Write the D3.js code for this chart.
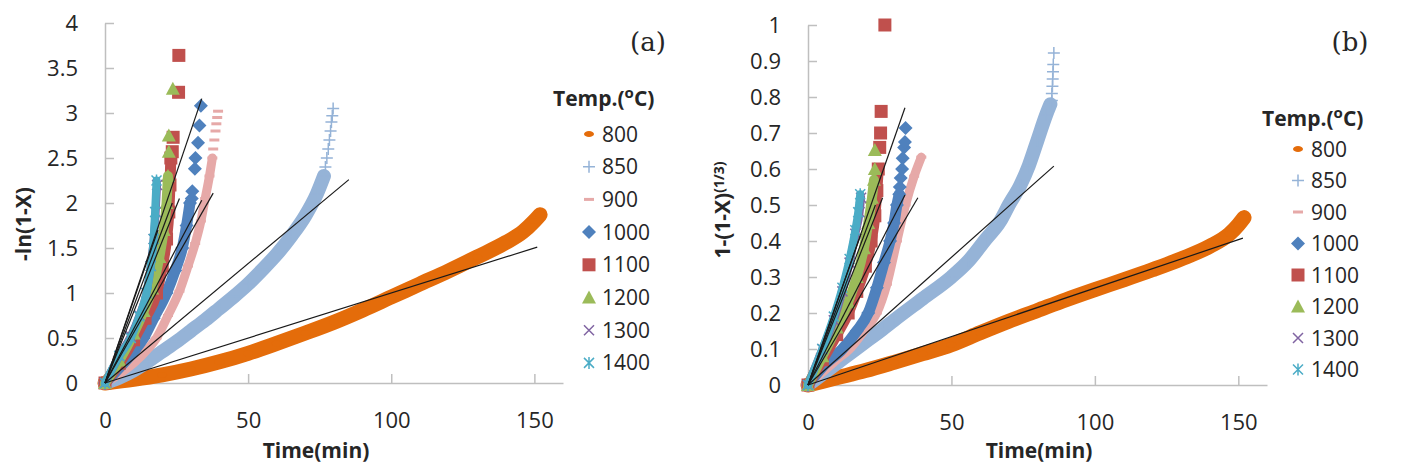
<!doctype html>
<html>
<head>
<meta charset="utf-8">
<script src="https://d3js.org/d3.v7.min.js"></script>
<style>
  body {margin:0; background:#fff;}
  svg text {font-family:"Open Sans", sans-serif; fill:#262626;}
  .tick line, .domain {stroke:#bfbfbf; stroke-width:1.5;}
  .tick text {font-size:22px;}
  .fit {stroke:#1a1a1a; stroke-width:1.2;}
  .ttl {font-weight:bold; font-size:21px;}
</style>
</head>
<body>
<svg id="chart" width="1418" height="470"></svg>
<script>
const temps = ['800','850','900','1000','1100','1200','1300','1400'];
const xTicks = [0, 50, 100, 150];
const yTicksA = [0, 0.5, 1, 1.5, 2, 2.5, 3, 3.5, 4];
const yTicksB = [0, 0.1, 0.2, 0.3, 0.4, 0.5, 0.6, 0.7, 0.8, 0.9, 1];

// panel (a): -ln(1-X) vs time, [min, value]
const a800 = [[0,0],[10,0.04],[20,0.09],[30,0.155],[40,0.235],[50,0.33],[60,0.44],[70,0.555],[80,0.675],[90,0.81],[100,0.955],[110,1.1],[120,1.245],[130,1.4],[140,1.56],[146,1.68],[150,1.8],[152,1.87]];
const a850 = [[0,0],[5,0.06],[10,0.14],[15,0.24],[20,0.35],[25,0.46],[30,0.58],[35,0.7],[40,0.83],[45,0.96],[50,1.1],[55,1.26],[60,1.43],[65,1.63],[70,1.86],[74,2.1],[76.5,2.3]];
const a900 = [[0,0],[5,0.1],[10,0.22],[15,0.38],[18,0.5],[22,0.75],[26,1.02],[29,1.3],[31.5,1.55],[33.5,1.8],[35,2.05],[36.5,2.3],[37.5,2.5]];
const a1000 = [[0,0],[5,0.17],[10,0.35],[13.5,0.5],[17,0.72],[21.5,1.0],[24.5,1.25],[27,1.5],[28.5,1.75],[29.7,2.0]];
const a1100 = [[0,0],[5,0.22],[10,0.48],[14,0.72],[18,1.0],[20,1.3],[21.5,1.6],[22.3,1.9],[22.7,2.2],[23,2.5]];
const a1200 = [[0,0],[5,0.25],[10,0.55],[13.5,0.8],[16.5,1.05],[19,1.4],[20.5,1.7],[21.5,2.0],[22,2.3]];
const a1300 = [[0,0],[5,0.3],[9,0.52],[12,0.75],[14.5,1.0],[16,1.3],[17,1.6],[17.7,1.9],[18.2,2.2]];
const a1400 = [[0,0],[5,0.3],[9,0.5],[12,0.74],[14.5,1.0],[16,1.3],[17,1.6],[17.5,1.9],[18,2.25]];
const a850tail = [[77,2.4],[77.5,2.5],[78,2.6],[78.4,2.7],[78.8,2.8],[79.1,2.9],[79.4,2.97],[79.7,3.05]];
const a900tail = [[37.8,2.6],[38.2,2.7],[38.6,2.8],[38.9,2.88],[39.2,2.95],[39.5,3.02]];
const a1000tail = [[30.3,2.05],[30.5,2.13],[31.4,2.38],[31.6,2.5],[32.5,2.67],[33,2.86],[33.5,3.08]];
const a1100tail = [[23.5,2.57],[23.8,2.73],[25.7,3.23],[25.8,3.64]];
const a1200tail = [[22.3,2.57],[22.3,2.75],[23.7,3.27]];
const fitA = [[151,1.51],[85.2,2.26],[37.8,2.11],[33.8,2.03],[33.8,3.16],[26,2.05],[23.5,2.0],[18.5,1.7]];

// panel (b): 1-(1-X)^(1/3) vs time
const b800 = [[0,0],[10,0.02],[20,0.04],[30,0.063],[40,0.087],[50,0.112],[60,0.145],[70,0.177],[80,0.207],[90,0.237],[100,0.265],[110,0.292],[120,0.32],[130,0.35],[140,0.385],[147,0.42],[150,0.445],[152,0.465]];
const b850 = [[0,0],[5,0.03],[10,0.06],[15,0.09],[20,0.12],[26,0.155],[30,0.18],[40,0.24],[50,0.3],[56,0.345],[62,0.405],[67,0.455],[70,0.5],[74,0.555],[77,0.61],[80,0.68],[83,0.75],[84.5,0.78]];
const b900 = [[0,0],[5,0.035],[10,0.07],[14.5,0.1],[19.5,0.15],[24,0.2],[27.5,0.28],[31,0.4],[34,0.5],[37,0.58],[39.5,0.633]];
const b1000 = [[0,0],[5,0.05],[12,0.1],[17,0.15],[21,0.2],[24,0.27],[26.5,0.34],[28.6,0.4],[30,0.45],[31,0.5],[31.8,0.53]];
const b1100 = [[0,0],[5,0.07],[10,0.14],[14,0.2],[17,0.26],[20,0.33],[22,0.4],[23.3,0.47],[24,0.54],[24.5,0.6]];
const b1200 = [[0,0],[5,0.08],[10,0.16],[14,0.23],[17,0.3],[19.5,0.38],[21,0.45],[22.3,0.52],[23,0.57]];
const b1300 = [[0,0],[5,0.1],[9,0.18],[12,0.26],[14.5,0.34],[16.5,0.42],[18,0.48],[18.5,0.52]];
const b1400 = [[0,0],[5,0.1],[9,0.19],[12,0.27],[14.5,0.35],[16.5,0.43],[17.5,0.48],[18.2,0.53]];
const b850tail = [[85,0.79],[85,0.81],[85.2,0.83],[85.3,0.85],[85.4,0.87],[85.5,0.89],[85.7,0.922]];
const b1000tail = [[32,0.55],[32.3,0.575],[32.8,0.6],[33,0.63],[33.5,0.66],[33.8,0.675],[34,0.714]];
const b1100tail = [[25,0.66],[25.3,0.7],[25.5,0.76],[26.8,1.0]];
const b1200tail = [[23.3,0.6],[23.3,0.653]];
const fitB = [[151.6,0.408],[85.7,0.608],[38.3,0.52],[33.8,0.528],[33.8,0.77],[26,0.52],[23.5,0.5],[18.5,0.42]];

// styling per temperature
const colors = ['#e46c0a','#95b3d7','#e6a9a8','#4f81bd','#c0504d','#9bbb59','#8064a2','#4bacc6'];
const shapes = ['dot','plus','dash','diamond','square','triangle','cross','star'];
const bandW = [15,14,9,11,11,10,8,8];

function markerPath(s) {
  switch (s) {
    case 'dot': return 'M-5,0a5,3 0 1,0 10,0a5,3 0 1,0 -10,0';
    case 'plus': return 'M-6,0H6M0,-6V6';
    case 'dash': return 'M-5,-1.5H5V1.5H-5Z';
    case 'diamond': return 'M0,-7L7,0L0,7L-7,0Z';
    case 'square': return 'M-6.5,-6.5H6.5V6.5H-6.5Z';
    case 'triangle': return 'M0,-7L7,6H-7Z';
    case 'cross': return 'M-5,-5L5,5M5,-5L-5,5';
    case 'star': return 'M-5,-5L5,5M5,-5L-5,5M0,-6V6';
  }
}
const stroked = s => s === 'plus' || s === 'cross' || s === 'star';

function addMarkers(g, pts, i, x, y) {
  g.selectAll(null).data(pts).join('path')
    .attr('d', markerPath(shapes[i]))
    .attr('transform', d => `translate(${x(d[0])},${y(d[1])})`)
    .attr('fill', stroked(shapes[i]) ? 'none' : colors[i])
    .attr('stroke', stroked(shapes[i]) ? colors[i] : 'none')
    .attr('stroke-width', 1.5);
}

const svg = d3.select('#chart');
svg.append('rect').attr('width', 1418).attr('height', 470).attr('fill', '#fff');

function panel(o) {
  const x = d3.scaleLinear([0, 160], o.xr);
  const y = d3.scaleLinear(o.yd, o.yr);
  const g = svg.append('g');

  g.append('g').attr('transform', `translate(0,${o.yr[0]})`)
    .call(d3.axisBottom(x).tickValues(xTicks).tickSize(-9).tickSizeOuter(0).tickPadding(29).tickFormat(d => String(d)));
  g.append('g').attr('transform', `translate(${o.xr[0]},0)`)
    .call(d3.axisLeft(y).tickValues(o.yTicks).tickSize(-9).tickSizeOuter(0).tickPadding(27).tickFormat(d => String(d)));

  const line = d3.line().x(d => x(d[0])).y(d => y(d[1])).curve(d3.curveMonotoneX);
  o.bands.forEach((pts, i) => {
    g.append('path').attr('d', line(pts)).attr('fill', 'none')
      .attr('stroke', colors[i]).attr('stroke-width', bandW[i])
      .attr('stroke-linecap', 'round').attr('stroke-linejoin', 'round');
    addMarkers(g, pts, i, x, y);
    if (o.tails[i]) addMarkers(g, o.tails[i], i, x, y);
  });

  g.selectAll('.fit').data(o.fits).join('line').attr('class', 'fit')
    .attr('x1', x(0)).attr('y1', y(0))
    .attr('x2', d => x(d[0])).attr('y2', d => y(d[1]));

  // legend
  const lg = g.append('g');
  const tt = lg.append('text').attr('class', 'ttl').attr('x', o.leg[0] - 36).attr('y', o.titleY)
    .attr('font-size', 23);
  tt.append('tspan').text('Temp.(');
  tt.append('tspan').attr('dy', -8).attr('font-size', 15).text('o');
  tt.append('tspan').attr('dy', 8).text('C)');
  temps.forEach((t, i) => {
    const cy = o.leg[1] + i * o.leg[2];
    lg.append('path').attr('d', markerPath(shapes[i]))
      .attr('transform', `translate(${o.leg[0]},${cy})`)
      .attr('fill', stroked(shapes[i]) ? 'none' : colors[i])
      .attr('stroke', stroked(shapes[i]) ? colors[i] : 'none').attr('stroke-width', 1.5);
    lg.append('text').attr('x', o.leg[0] + 13).attr('y', cy + 7.5)
      .attr('font-size', 21).text(t);
  });

  g.append('text').attr('class', 'ttl').attr('x', o.xlab).attr('y', 458)
    .attr('text-anchor', 'middle').text('Time(min)');
  g.append('text').attr('x', o.tag[0]).attr('y', o.tag[1]).attr('text-anchor', 'middle')
    .attr('font-size', 26).style('font-family', '"DejaVu Serif", serif').text(o.tagText);
  return g;
}

panel({xr: [105, 563], yd: [0, 4], yr: [383, 23], yTicks: yTicksA,
  bands: [a800, a850, a900, a1000, a1100, a1200, a1300, a1400],
  tails: [null, a850tail, a900tail, a1000tail, a1100tail, a1200tail, null, null],
  fits: fitA, leg: [589, 134, 32.7], titleY: 106, xlab: 316, tag: [648, 51], tagText: '(a)'});

panel({xr: [808, 1267], yd: [0, 1], yr: [385, 25], yTicks: yTicksB,
  bands: [b800, b850, b900, b1000, b1100, b1200, b1300, b1400],
  tails: [null, b850tail, null, b1000tail, b1100tail, b1200tail, null, null],
  fits: fitB, leg: [1298, 149, 31.5], titleY: 126, xlab: 1039, tag: [1350, 51], tagText: '(b)'});

// y axis titles
svg.append('text').attr('class', 'ttl').attr('transform', 'translate(31,224) rotate(-90)')
  .attr('text-anchor', 'middle').text('-ln(1-X)');
const yb = svg.append('text').attr('class', 'ttl').attr('transform', 'translate(730,210) rotate(-90)')
  .attr('text-anchor', 'middle');
yb.append('tspan').text('1-(1-X)');
yb.append('tspan').attr('dy', -6).attr('font-size', 14).text('(1/3)');
</script>
</body>
</html>
